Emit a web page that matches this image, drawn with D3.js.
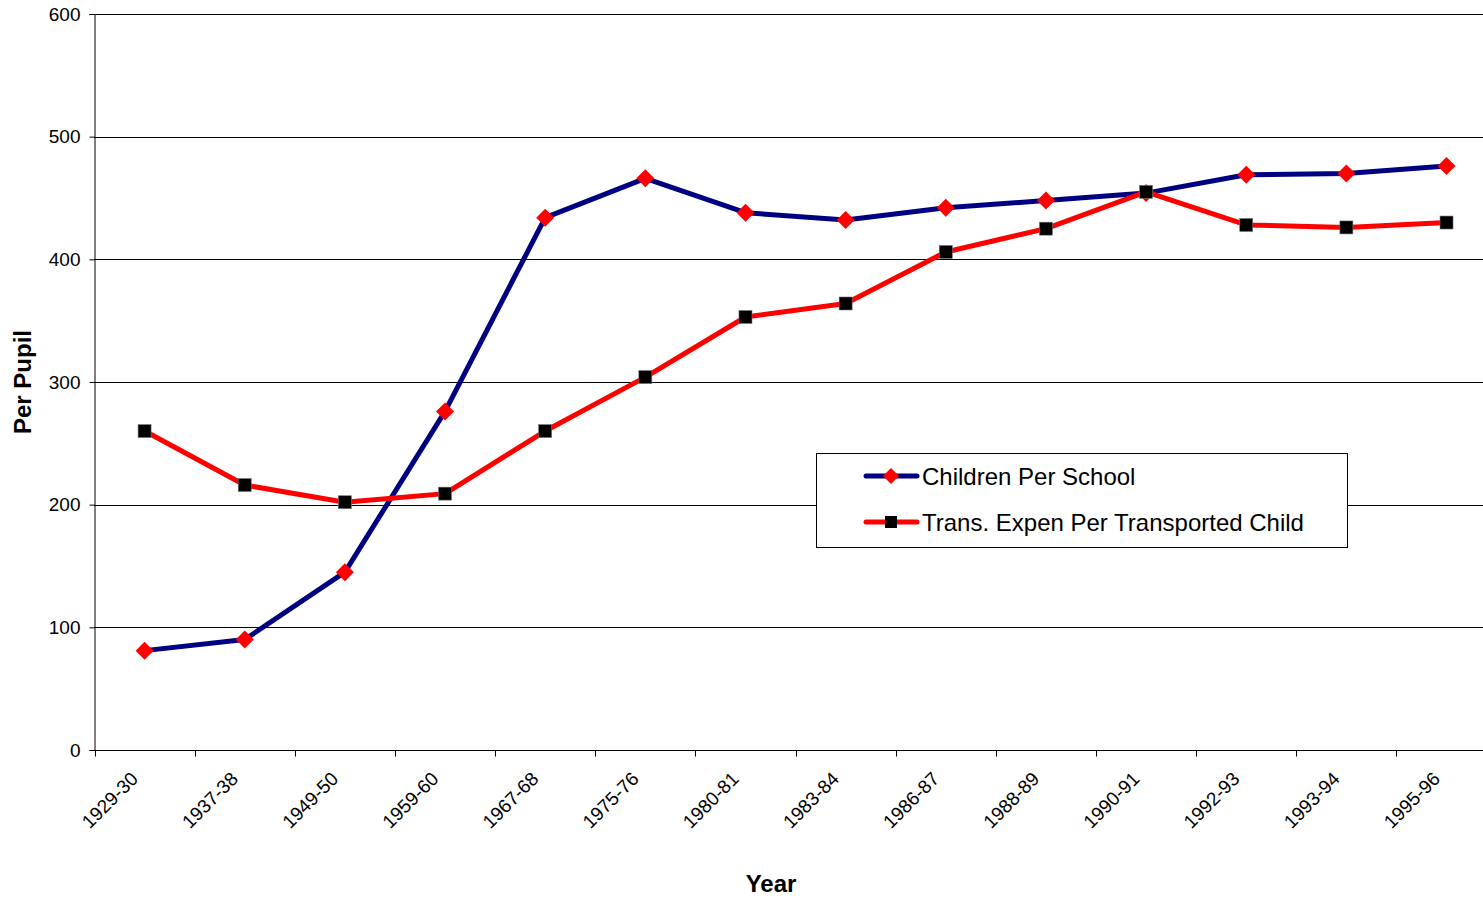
<!DOCTYPE html>
<html>
<head>
<meta charset="utf-8">
<script src="https://cdn.jsdelivr.net/npm/d3@7"></script>
<style>
  html, body { margin: 0; padding: 0; background: #fff; }
  svg { display: block; font-family: "Liberation Sans", Arial, sans-serif; }
</style>
</head>
<body>
<svg id="chart" width="1483" height="898"></svg>
<script>
// School years on the category axis
const years = ["1929-30", "1937-38", "1949-50", "1959-60", "1967-68", "1975-76", "1980-81",
               "1983-84", "1986-87", "1988-89", "1990-91", "1992-93", "1993-94", "1995-96"];

// Average number of children per school
const childrenPerSchool = [81, 90, 145, 276, 434, 466, 438, 432, 442, 448, 454, 469, 470, 476];

// Transportation expenditure per transported child
const transExpenPerChild = [260, 216, 202, 209, 260, 304, 353, 364, 406, 425, 455, 428, 426, 430];

const yTicks = [0, 100, 200, 300, 400, 500, 600];

const seriesNames = ["Children Per School", "Trans. Expen Per Transported Child"];

const svg = d3.select("#chart");
const W = 1483, H = 898;

const x = d3.scaleBand().domain(years).range([94.5, 1496.6]).padding(0);
const y = d3.scaleLinear().domain([0, 600]).range([750, 14]);

// Horizontal gridlines
svg.append("g")
  .selectAll("line")
  .data(yTicks.filter(d => d > 0))
  .join("line")
  .attr("x1", 94).attr("x2", W)
  .attr("y1", d => Math.round(y(d)) + 0.5).attr("y2", d => Math.round(y(d)) + 0.5)
  .attr("stroke", "#000").attr("stroke-width", 1);

// Y axis
const yAxis = svg.append("g")
  .attr("transform", "translate(94.5,0)")
  .call(d3.axisLeft(y).tickValues(yTicks).tickSize(5).tickPadding(9).tickFormat(d3.format("d")));
yAxis.select(".domain").attr("stroke", "#000");
yAxis.selectAll(".tick line").attr("stroke", "#000");
yAxis.selectAll(".tick text")
  .attr("font-size", 19).attr("fill", "#000")
  .attr("font-family", "Liberation Sans, Arial, sans-serif");

// X axis: ticks sit on the category boundaries
const xAxisG = svg.append("g").attr("transform", "translate(0,750.5)");
xAxisG.append("line")
  .attr("x1", 94).attr("x2", W).attr("y1", 0).attr("y2", 0)
  .attr("stroke", "#000").attr("stroke-width", 1);
const boundaries = years.map(d => x(d));
xAxisG.selectAll("line.tick")
  .data(boundaries)
  .join("line")
  .attr("class", "tick")
  .attr("x1", d => Math.round(d) + 0.5).attr("x2", d => Math.round(d) + 0.5)
  .attr("y1", 0).attr("y2", 6)
  .attr("stroke", "#000");
xAxisG.selectAll("text")
  .data(years)
  .join("text")
  .attr("transform", d => `translate(${x(d) + x.bandwidth() / 2 - 10},${25}) rotate(-45)`)
  .attr("text-anchor", "end")
  .attr("dominant-baseline", "central")
  .attr("font-size", 19)
  .attr("fill", "#000")
  .text(d => d);

// Axis titles
svg.append("text")
  .attr("x", 771).attr("y", 883)
  .attr("text-anchor", "middle").attr("dominant-baseline", "central")
  .attr("font-size", 24).attr("font-weight", "bold")
  .text("Year");
svg.append("text")
  .attr("transform", "translate(22,382) rotate(-90)")
  .attr("text-anchor", "middle").attr("dominant-baseline", "central")
  .attr("font-size", 24).attr("font-weight", "bold")
  .text("Per Pupil");

const cx = d => x(d) + x.bandwidth() / 2;
const line = d3.line().x(d => cx(d.year)).y(d => y(d.value));

const blueData = years.map((yr, i) => ({ year: yr, value: childrenPerSchool[i] }));
const redData = years.map((yr, i) => ({ year: yr, value: transExpenPerChild[i] }));

const diamond = s => `M0,${-s}L${s},0L0,${s}L${-s},0Z`;

// Children Per School: navy line, red diamonds
svg.append("path")
  .datum(blueData)
  .attr("d", line)
  .attr("fill", "none").attr("stroke", "#000080").attr("stroke-width", 5)
  .attr("stroke-linejoin", "round");

// Transportation expenditure: red line, black squares
svg.append("path")
  .datum(redData)
  .attr("d", line)
  .attr("fill", "none").attr("stroke", "#FF0000").attr("stroke-width", 5)
  .attr("stroke-linejoin", "round");

svg.append("g").selectAll("path")
  .data(blueData)
  .join("path")
  .attr("transform", d => `translate(${cx(d.year)},${y(d.value)})`)
  .attr("d", diamond(9))
  .attr("fill", "#FF0000");

svg.append("g").selectAll("rect")
  .data(redData)
  .join("rect")
  .attr("x", d => cx(d.year) - 6.5).attr("y", d => y(d.value) - 6.5)
  .attr("width", 13).attr("height", 13)
  .attr("fill", "#000").attr("stroke", "#777").attr("stroke-width", 0.6);

// Legend
const legend = svg.append("g");
legend.append("rect")
  .attr("x", 816.5).attr("y", 453.5).attr("width", 531).attr("height", 94)
  .attr("fill", "#fff").attr("stroke", "#000").attr("stroke-width", 1);

const legendRows = [
  { name: seriesNames[0], y: 476, stroke: "#000080", marker: "diamond" },
  { name: seriesNames[1], y: 522, stroke: "#FF0000", marker: "square" }
];
legendRows.forEach(r => {
  legend.append("line")
    .attr("x1", 866).attr("x2", 917).attr("y1", r.y).attr("y2", r.y)
    .attr("stroke", r.stroke).attr("stroke-width", 5).attr("stroke-linecap", "round");
  if (r.marker === "diamond") {
    legend.append("path")
      .attr("transform", `translate(891,${r.y})`)
      .attr("d", diamond(8)).attr("fill", "#FF0000");
  } else {
    legend.append("rect")
      .attr("x", 885).attr("y", r.y - 6).attr("width", 12).attr("height", 12)
      .attr("fill", "#000");
  }
  legend.append("text")
    .attr("x", 922).attr("y", r.y)
    .attr("dominant-baseline", "central")
    .attr("font-size", 24).attr("fill", "#000")
    .text(r.name);
});
</script>
</body>
</html>
